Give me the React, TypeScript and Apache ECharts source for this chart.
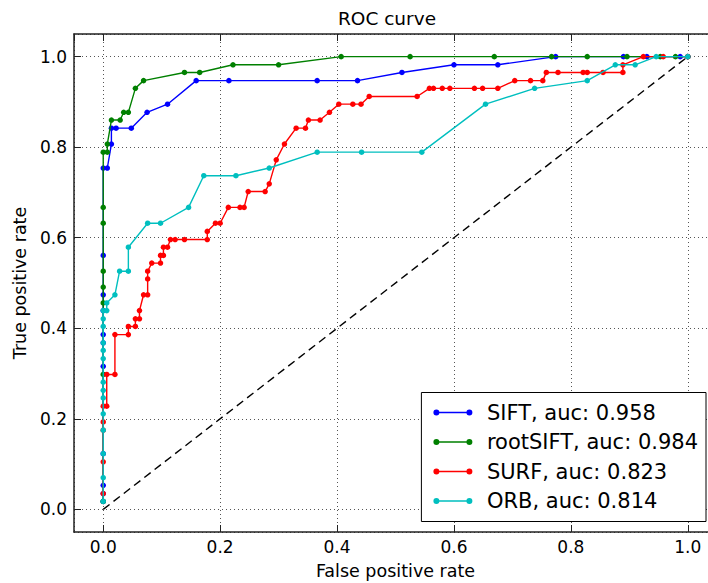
import React, { useEffect, useRef } from "react";
import * as echarts from "echarts";

// ---------- data ----------
const seriesNames = ["SIFT", "rootSIFT", "SURF", "ORB"];
const aucValues = [0.958, 0.984, 0.823, 0.814];
const seriesColors = ["#0000ff", "#008000", "#ff0000", "#00bfbf"];

const siftFpr = [0, 0, 0, 0, 0, 0, 0, 0, 0, 0, 0, 0.007, 0.014, 0.014, 0.022, 0.048, 0.075, 0.11, 0.159, 0.215, 0.366, 0.435, 0.511, 0.6, 0.675, 0.774, 0.89, 0.93, 0.987, 1.0];
const siftTpr = [0.0175, 0.035, 0.053, 0.123, 0.316, 0.368, 0.386, 0.439, 0.474, 0.561, 0.754, 0.754, 0.807, 0.842, 0.842, 0.842, 0.877, 0.895, 0.947, 0.947, 0.947, 0.947, 0.965, 0.982, 0.982, 1.0, 1.0, 1.0, 1.0, 1.0];

const rootFpr = [0, 0, 0, 0, 0, 0, 0, 0, 0.007, 0.007, 0.014, 0.029, 0.035, 0.043, 0.055, 0.069, 0.139, 0.165, 0.222, 0.3, 0.407, 0.525, 0.669, 0.767, 0.828, 0.896, 0.953, 0.979, 1.0];
const rootTpr = [0.0175, 0.298, 0.456, 0.491, 0.526, 0.632, 0.667, 0.789, 0.789, 0.807, 0.86, 0.86, 0.877, 0.877, 0.93, 0.947, 0.965, 0.965, 0.982, 0.982, 1.0, 1.0, 1.0, 1.0, 1.0, 1.0, 1.0, 1.0, 1.0];

const surfFpr = [0, 0, 0, 0, 0, 0.006, 0.006, 0.02, 0.02, 0.043, 0.043, 0.055, 0.055, 0.062, 0.062, 0.069, 0.076, 0.076, 0.076, 0.083, 0.098, 0.098, 0.103, 0.103, 0.11, 0.115, 0.123, 0.139, 0.178, 0.178, 0.192, 0.2, 0.214, 0.234, 0.241, 0.248, 0.277, 0.284, 0.296, 0.31, 0.33, 0.346, 0.351, 0.371, 0.387, 0.403, 0.427, 0.441, 0.455, 0.537, 0.558, 0.565, 0.58, 0.593, 0.635, 0.649, 0.675, 0.704, 0.731, 0.752, 0.758, 0.778, 0.821, 0.828, 0.855, 0.889, 0.889, 0.924, 0.958, 1.0];
const surfTpr = [0.035, 0.105, 0.175, 0.193, 0.228, 0.228, 0.298, 0.298, 0.386, 0.386, 0.404, 0.404, 0.421, 0.421, 0.439, 0.474, 0.474, 0.509, 0.526, 0.544, 0.544, 0.561, 0.561, 0.579, 0.579, 0.596, 0.596, 0.596, 0.596, 0.614, 0.632, 0.632, 0.667, 0.667, 0.667, 0.702, 0.702, 0.719, 0.772, 0.807, 0.842, 0.842, 0.86, 0.86, 0.877, 0.895, 0.895, 0.895, 0.912, 0.912, 0.93, 0.93, 0.93, 0.93, 0.93, 0.93, 0.93, 0.947, 0.947, 0.947, 0.965, 0.965, 0.965, 0.965, 0.965, 0.965, 0.982, 1.0, 1.0, 1.0];

const orbFpr = [0, 0, 0, 0, 0, 0, 0, 0, 0, 0, 0, 0, 0, 0, 0.006, 0.006, 0.02, 0.028, 0.043, 0.043, 0.076, 0.098, 0.146, 0.172, 0.227, 0.284, 0.366, 0.442, 0.545, 0.654, 0.738, 0.828, 0.876, 0.91, 0.946, 1.0];
const orbTpr = [0.0175, 0.07, 0.123, 0.175, 0.211, 0.246, 0.263, 0.281, 0.333, 0.351, 0.368, 0.404, 0.421, 0.439, 0.439, 0.456, 0.474, 0.526, 0.526, 0.579, 0.632, 0.632, 0.667, 0.737, 0.737, 0.754, 0.789, 0.789, 0.789, 0.895, 0.93, 0.947, 0.982, 0.982, 1.0, 1.0];

const chanceLine = [[0, 0], [1, 1]];

const FONT = "DejaVu Sans";

function zip(xs: number[], ys: number[]) {
  return xs.map((x, i) => [x, ys[i]]);
}

const legendIcon =
  "path://M0.5,5a3,3 0 1,0 6,0a3,3 0 1,0 -6,0z M33.5,5a3,3 0 1,0 6,0a3,3 0 1,0 -6,0z M6.45,4.3h27.1v1.4h-27.1z";

export default function App() {
  const ref = useRef<HTMLDivElement>(null);

  useEffect(() => {
    if (!ref.current) return;
    const chart = echarts.init(ref.current, undefined, { renderer: "svg" });

    const data = [zip(siftFpr, siftTpr), zip(rootFpr, rootTpr), zip(surfFpr, surfTpr), zip(orbFpr, orbTpr)];
    const labels = seriesNames.map((n, i) => `${n}, auc: ${aucValues[i].toFixed(3)}`);

    const tickFmt = (v: number) => {
      const k = v * 5;
      return Math.abs(k - Math.round(k)) < 1e-6 ? v.toFixed(1) : "";
    };

    const spine = { show: true, onZero: false, lineStyle: { color: "#222", width: 1.5 } };
    const tick = { show: true, inside: true, length: 7, lineStyle: { color: "#222", width: 1 } };
    const grid = { show: true, lineStyle: { color: "#555", width: 1, type: [1, 3] as any } };
    const labelStyle = { color: "#000", fontSize: 17, fontFamily: FONT };
    const nameStyle = { fontSize: 17.5, fontFamily: FONT, color: "#000" };

    const option: any = {
      animation: false,
      backgroundColor: "#fff",
      title: {
        text: "ROC curve",
        left: 387,
        top: 9,
        padding: 0,
        textAlign: "center",
        textStyle: { fontSize: 18.5, fontWeight: "normal", fontFamily: FONT, color: "#000" },
      },
      grid: { left: 74, top: 34, width: 643, height: 498, containLabel: false, outerBoundsMode: "none" },
      legend: {
        data: labels,
        orient: "vertical",
        right: 2,
        bottom: 61.5,
        padding: [9, 8, 9.5, 12],
        itemGap: 7.5,
        itemWidth: 40,
        itemHeight: 6,
        icon: legendIcon,
        selectedMode: false,
        backgroundColor: "#fff",
        borderColor: "#000",
        borderWidth: 1,
        borderRadius: 0,
        itemStyle: { borderWidth: 0 },
        textStyle: { fontSize: 21, fontFamily: FONT, color: "#000", lineHeight: 22, padding: [0, 0, 0, 9] },
      },
      xAxis: [
        {
          type: "value",
          min: -0.05,
          max: 1.05,
          splitNumber: 5,
          name: "False positive rate",
          nameLocation: "middle",
          nameGap: 30,
          nameTextStyle: nameStyle,
          axisLine: spine,
          axisTick: tick,
          axisLabel: { ...labelStyle, margin: 6, formatter: tickFmt, showMinLabel: false, showMaxLabel: false },
          splitLine: grid,
        },
        {
          type: "value",
          position: "top",
          min: -0.05,
          max: 1.05,
          splitNumber: 5,
          axisLine: spine,
          axisTick: tick,
          axisLabel: { show: false },
          splitLine: { show: false },
        },
      ],
      yAxis: [
        {
          type: "value",
          min: -0.05,
          max: 1.05,
          splitNumber: 5,
          name: "True positive rate",
          nameLocation: "middle",
          nameGap: 40,
          nameTextStyle: nameStyle,
          axisLine: spine,
          axisTick: tick,
          axisLabel: { ...labelStyle, margin: 7, formatter: tickFmt, showMinLabel: false, showMaxLabel: false },
          splitLine: grid,
        },
        {
          type: "value",
          position: "right",
          min: -0.05,
          max: 1.05,
          splitNumber: 5,
          axisLine: spine,
          axisTick: tick,
          axisLabel: { show: false },
          splitLine: { show: false },
        },
      ],
      series: [
        {
          type: "line",
          name: "chance",
          data: chanceLine,
          showSymbol: false,
          symbol: "none",
          silent: true,
          z: 1,
          lineStyle: { color: "#000", width: 1.4, type: [8, 5] },
        },
        ...data.map((d, i) => ({
          type: "line",
          name: labels[i],
          data: d,
          symbol: "circle",
          symbolSize: 5.5,
          showSymbol: true,
          silent: true,
          z: 2 + i,
          itemStyle: { color: seriesColors[i], borderWidth: 0 },
          lineStyle: { color: seriesColors[i], width: 1.4 },
          emphasis: { disabled: true },
        })),
      ],
    };

    chart.setOption(option);
    return () => chart.dispose();
  }, []);

  return (
    <div
      ref={ref}
      style={{ position: "absolute", left: 0, top: 0, width: 708, height: 583, background: "#fff" }}
    />
  );
}
